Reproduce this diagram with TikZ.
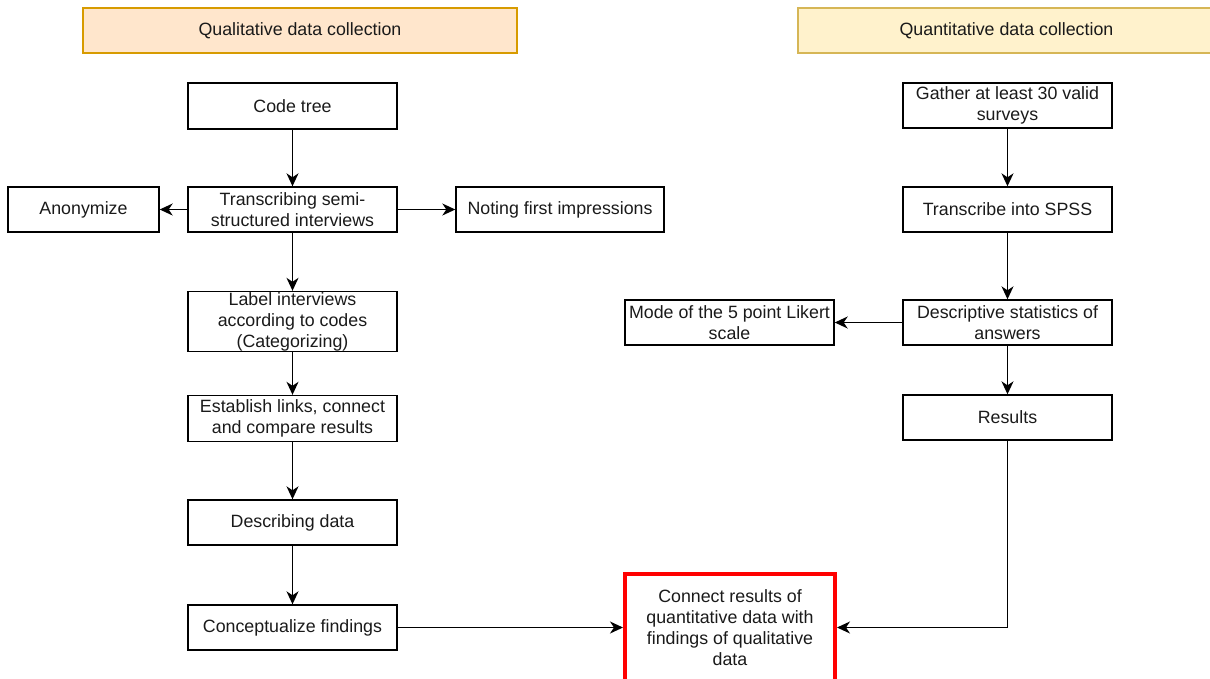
\documentclass[tikz,border=0pt]{standalone}
\usepackage{fontspec}
\setmainfont{Liberation Sans}
\usetikzlibrary{arrows.meta}
\definecolor{qualfill}{HTML}{FFE6CC}
\definecolor{qualdraw}{HTML}{D79B00}
\definecolor{quantfill}{HTML}{FFF2CC}
\definecolor{quantdraw}{HTML}{D6B656}
\definecolor{txt}{HTML}{1A1A1A}
\tikzset{
  stepbox/.style={draw=black, line width=1.4pt, minimum width=209pt, minimum height=45pt,
    inner sep=0pt, align=center, text=txt, font=\fontsize{17.8}{21}\selectfont},
  header/.style={line width=1.4pt, minimum height=45pt, inner sep=0pt, text=txt,
    font=\fontsize{17.8}{21}\selectfont},
  conn/.style={line width=1.4pt, -{Stealth[length=13pt,width=12pt,inset=4pt]}},
}
\begin{document}
\begin{tikzpicture}[x=1pt,y=-1pt]
\useasboundingbox (0,0) rectangle (1210,678);
% headers
\node[header, draw=qualdraw, fill=qualfill, minimum width=434pt] (qual) at (300,30.5) {Qualitative data collection};
\node[header, draw=quantdraw, fill=quantfill, minimum width=417pt] (quant) at (1006.5,30.5) {Quantitative data collection};
% left column
\node[stepbox, minimum height=46pt] (codetree) at (292.5,106) {Code tree};
\node[stepbox] (trans) at (292.5,209.5) {Transcribing semi-\\structured interviews};
\node[stepbox, minimum width=151pt] (anon) at (83.5,209.5) {Anonymize};
\node[stepbox, minimum width=208pt] (noting) at (560,209.5) {Noting first impressions};
\node[stepbox, minimum height=60pt] (label) at (292.5,321.5) {Label interviews\\according to codes\\(Categorizing)};
\node[stepbox, minimum height=46pt] (establish) at (292.5,418.5) {Establish links, connect\\and compare results};
\node[stepbox] (describing) at (292.5,522.5) {Describing data};
\node[stepbox] (concept) at (292.5,627.5) {Conceptualize findings};
% right column
\node[stepbox] (gather) at (1007.5,105.5) {Gather at least 30 valid\\surveys};
\node[stepbox] (spss) at (1007.5,209.5) {Transcribe into SPSS};
\node[stepbox] (desc) at (1007.5,322.5) {Descriptive statistics of\\answers};
\node[stepbox] (mode) at (729.5,322.5) {Mode of the 5 point Likert\\scale};
\node[stepbox] (results) at (1007.5,417.5) {Results};
% final box
\node[stepbox, draw=red, line width=4pt, minimum width=210pt, minimum height=108pt] (connect) at (730,627.5) {Connect results of\\quantitative data with\\findings of qualitative\\data};
% connectors
\draw[conn] (codetree) -- (trans);
\draw[conn] (trans) -- (anon);
\draw[conn] (trans) -- (noting);
\draw[conn] (trans) -- (label);
\draw[conn] (label) -- (establish);
\draw[conn] (establish) -- (describing);
\draw[conn] (describing) -- (concept);
\draw[conn] (concept.east) -- (connect.west);
\draw[conn] (gather) -- (spss);
\draw[conn] (spss) -- (desc);
\draw[conn] (desc) -- (mode);
\draw[conn] (desc) -- (results);
\draw[conn] (results.south) |- (connect.east);
\end{tikzpicture}
\end{document}
